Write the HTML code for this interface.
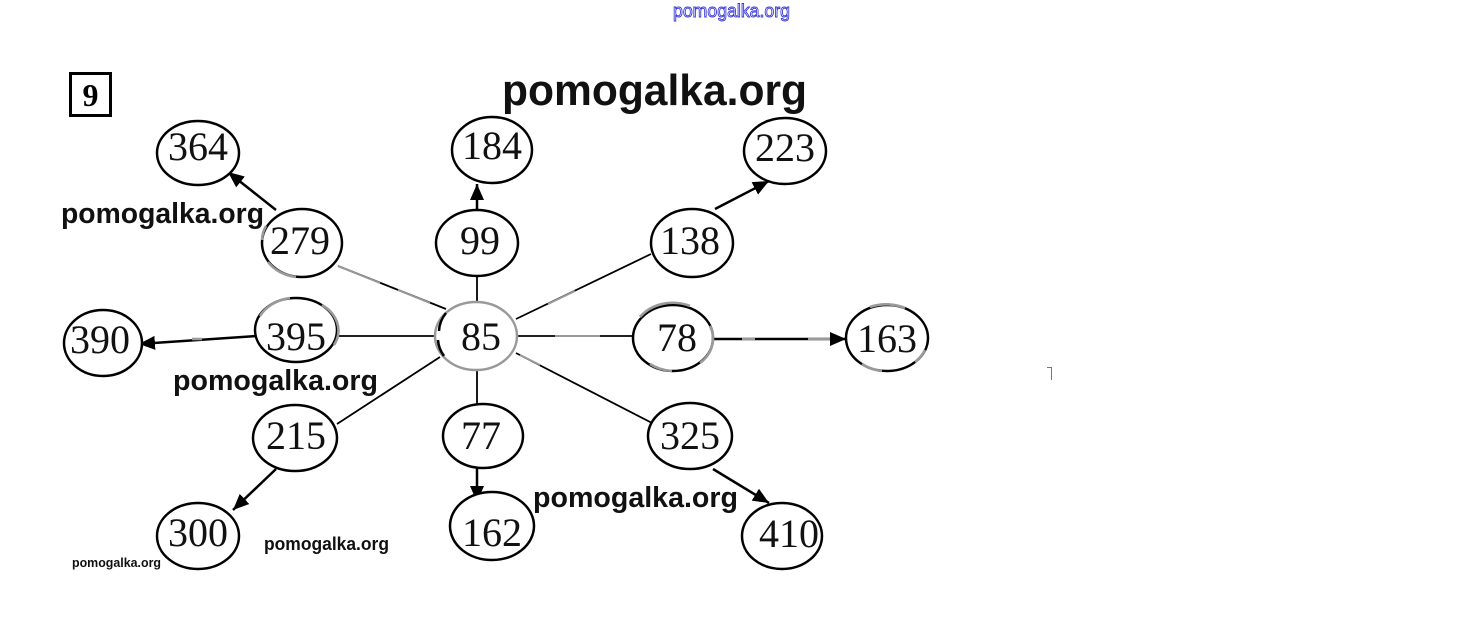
<!DOCTYPE html>
<html>
<head>
<meta charset="utf-8">
<style>
html,body{margin:0;padding:0;background:#fff;}
svg{display:block;}
.n{font-family:"Liberation Serif",serif;font-size:40px;fill:#111;text-anchor:middle;}
.w{font-family:"Liberation Sans",sans-serif;font-weight:bold;fill:#111;}
</style>
</head>
<body>
<svg width="1460" height="627" viewBox="0 0 1460 627" xmlns="http://www.w3.org/2000/svg">
<defs>
<marker id="ah" markerUnits="userSpaceOnUse" markerWidth="18" markerHeight="16" refX="16" refY="7" orient="auto">
<path d="M0,0 L16,7 L0,14 z" fill="#000"/>
</marker>
</defs>
<rect width="1460" height="627" fill="#fff"/>

<!-- top blue watermark -->
<text x="673" y="17" textLength="117" lengthAdjust="spacingAndGlyphs" font-family="Liberation Sans, sans-serif" font-size="18" fill="#fff" stroke="#3a3ad8" stroke-width="0.9">pomogalka.org</text>

<!-- box 9 -->
<rect x="70.5" y="73.5" width="40" height="42" fill="none" stroke="#000" stroke-width="3"/>
<text x="90.5" y="106" text-anchor="middle" font-family="Liberation Serif, serif" font-weight="bold" font-size="32" fill="#000">9</text>

<!-- big watermark -->
<text class="w" x="502" y="105" font-size="44" textLength="305" lengthAdjust="spacingAndGlyphs">pomogalka.org</text>

<!-- plain edges -->
<g stroke="#000" stroke-width="1.8" fill="none">
<line x1="477" y1="277" x2="477" y2="303"/>
<line x1="446" y1="309" x2="338" y2="266"/>
<line x1="516" y1="319" x2="651" y2="254"/>
<line x1="337" y1="336" x2="436" y2="336"/>
<line x1="518" y1="336" x2="632" y2="336"/>
<line x1="440" y1="357" x2="337" y2="424"/>
<line x1="477" y1="370" x2="477" y2="405"/>
<line x1="516" y1="353" x2="652" y2="423"/>
</g>
<!-- gray overlays on edges -->
<g stroke="#9a9a9a" stroke-width="2" fill="none">
<line x1="338" y1="266" x2="380" y2="283"/>
<line x1="398" y1="290" x2="430" y2="303"/>
<line x1="548" y1="304" x2="575" y2="291"/>
<line x1="555" y1="336" x2="600" y2="336"/>
<line x1="520" y1="355" x2="540" y2="365"/>
<line x1="560" y1="336" x2="572" y2="336"/>
</g>

<!-- arrows -->
<g stroke="#000" stroke-width="2.5" fill="none" marker-end="url(#ah)">
<line x1="276" y1="210" x2="228" y2="172"/>
<line x1="477" y1="209" x2="477" y2="184"/>
<line x1="715" y1="209" x2="769" y2="181"/>
<line x1="714" y1="339" x2="846" y2="339"/>
<line x1="256" y1="336" x2="139" y2="344"/>
<line x1="276" y1="469" x2="233" y2="510"/>
<line x1="477" y1="467" x2="477" y2="502"/>
<line x1="713" y1="469" x2="769" y2="503"/>
</g>
<g stroke="#9a9a9a" stroke-width="2.6" fill="none">
<line x1="742" y1="339" x2="755" y2="339"/>
<line x1="808" y1="339" x2="830" y2="339"/>
<line x1="192" y1="339" x2="202" y2="339"/>
</g>

<!-- ellipses -->
<g stroke="#000" stroke-width="2.5" fill="#fff">
<ellipse cx="198" cy="153" rx="41" ry="32"/>
<ellipse cx="492" cy="150" rx="40" ry="33"/>
<ellipse cx="785" cy="151" rx="41" ry="33"/>
<ellipse cx="302" cy="243" rx="40" ry="34"/>
<ellipse cx="477" cy="243" rx="41" ry="33"/>
<ellipse cx="692" cy="243" rx="41" ry="34"/>
<ellipse cx="103" cy="343" rx="39" ry="33"/>
<ellipse cx="296" cy="330" rx="41" ry="32"/>
<ellipse cx="476" cy="336" rx="41" ry="34" stroke="#9a9a9a"/>
<ellipse cx="673" cy="338" rx="40" ry="33"/>
<ellipse cx="887" cy="338" rx="41" ry="33"/>
<ellipse cx="295" cy="438" rx="42" ry="33"/>
<ellipse cx="483" cy="436" rx="40" ry="32"/>
<ellipse cx="690" cy="436" rx="42" ry="33"/>
<ellipse cx="198" cy="536" rx="41" ry="33"/>
<ellipse cx="492" cy="526" rx="42" ry="34"/>
<ellipse cx="782" cy="536" rx="40" ry="33"/>
</g>
<!-- gray arcs on some ellipses -->
<g stroke="#9a9a9a" stroke-width="2.6" fill="none">
<path d="M 268 262 A 40 34 0 0 0 296 277"/>
<path d="M 262 240 A 40 34 0 0 1 266 226"/>
<path d="M 260 316 A 41 32 0 0 1 290 298"/>
<path d="M 322 305 A 41 32 0 0 1 334 345"/>
<path d="M 640 317 A 40 33 0 0 1 690 306"/>
<path d="M 710 326 A 40 33 0 0 1 700 363"/>
<path d="M 650 364 A 40 33 0 0 0 672 371"/>
<path d="M 870 307 A 41 33 0 0 1 905 308"/>
<path d="M 862 364 A 41 33 0 0 0 882 371"/>
<path d="M 925 350 A 41 33 0 0 1 915 362"/>
</g>
<path d="M 439 331 A 41 34 0 0 1 446 313" stroke="#000" stroke-width="2.5" fill="none"/>
<path d="M 438 340 A 41 34 0 0 0 444 356" stroke="#000" stroke-width="2.5" fill="none"/>

<!-- node labels -->
<text class="n" x="198" y="160">364</text>
<text class="n" x="492" y="159">184</text>
<text class="n" x="785" y="161">223</text>
<text class="n" x="300" y="254">279</text>
<text class="n" x="480" y="254">99</text>
<text class="n" x="690" y="254">138</text>
<text class="n" x="100" y="353">390</text>
<text class="n" x="296" y="350">395</text>
<text class="n" x="481" y="350">85</text>
<text class="n" x="677" y="351" fill="#444">78</text>
<text class="n" x="887" y="352">163</text>
<text class="n" x="296" y="449">215</text>
<text class="n" x="481" y="449">77</text>
<text class="n" x="690" y="449">325</text>
<text class="n" x="198" y="546">300</text>
<text class="n" x="492" y="546">162</text>
<text class="n" x="789" y="547">410</text>

<!-- watermarks -->
<text class="w" x="61" y="223" font-size="29" textLength="203" lengthAdjust="spacingAndGlyphs">pomogalka.org</text>
<text class="w" x="173" y="390" font-size="29" textLength="205" lengthAdjust="spacingAndGlyphs">pomogalka.org</text>
<text class="w" x="533" y="507" font-size="29" textLength="205" lengthAdjust="spacingAndGlyphs">pomogalka.org</text>
<text class="w" x="264" y="550" font-size="18" textLength="125" lengthAdjust="spacingAndGlyphs">pomogalka.org</text>
<text class="w" x="72" y="567" font-size="13" textLength="89" lengthAdjust="spacingAndGlyphs">pomogalka.org</text>

<!-- tiny mark -->
<path d="M1047 367.5 H1051.5 V380" stroke="#777" stroke-width="1" fill="none"/>
</svg>
</body>
</html>
